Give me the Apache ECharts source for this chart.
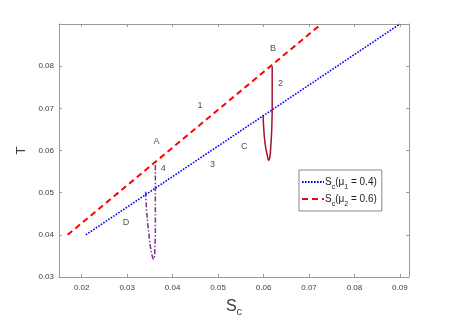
<!DOCTYPE html>
<html><head><meta charset="utf-8">
<script src="https://cdn.jsdelivr.net/npm/echarts@6/dist/echarts.min.js"></script>
<style>html,body{margin:0;padding:0;background:#fff}#c{width:452px;height:322px}</style>
</head><body><div id="c"></div>
<script>
// Tick labels
const xTicks = [0.02, 0.03, 0.04, 0.05, 0.06, 0.07, 0.08, 0.09];
const yTicks = [0.03, 0.04, 0.05, 0.06, 0.07, 0.08];
// S_c (mu1 = 0.4) blue dotted line
const sc1 = [[0.0209, 0.040], [0.0900, 0.090]];
// S_c (mu2 = 0.6) red dashed line
const sc2 = [[0.0169, 0.040], [0.0727, 0.090]];
// curve 4 (purple dash-dot), D -> A
const curve4 = [[0.03405, 0.0502], [0.0342, 0.047], [0.0344, 0.044], [0.0347, 0.041], [0.0350, 0.038],
  [0.0353, 0.0360], [0.0356, 0.0346], [0.0358, 0.0342], [0.0360, 0.0348], [0.0361, 0.0370],
  [0.0362, 0.041], [0.0362, 0.045], [0.0362, 0.050], [0.0362, 0.0545], [0.0362, 0.0575]];
// curve 2 (dark red solid), C -> B
const curve2 = [[0.0599, 0.0683], [0.0600, 0.0660], [0.0602, 0.0630], [0.0605, 0.0605], [0.0608, 0.0590],
  [0.0611, 0.0577], [0.0614, 0.0585], [0.0616, 0.0610], [0.0618, 0.0650], [0.0619, 0.0700],
  [0.0619, 0.0750], [0.0619, 0.0800]];
// annotation labels
const noteNames = ['1', 'A', 'B', '2', '3', '4', 'C', 'D'];
const noteX = [0.0460, 0.03647, 0.0621, 0.06373, 0.04878, 0.03792, 0.05573, 0.02973];
const noteY = [0.0707, 0.0621, 0.0842, 0.0758, 0.0567, 0.0557, 0.0609, 0.0429];

const txt = '#404040', axc = '#9a9a9a';
const font = 'Liberation Sans';
const chart = echarts.init(document.getElementById('c'), null, {renderer: 'canvas'});
const fmt = v => Number(v).toFixed(2);
function mainX(pos, show) {
  return {type: 'value', position: pos, min: 0.015, max: 0.092,
    axisLine: {show: true, onZero: false, lineStyle: {color: axc, width: 1}},
    axisTick: {show: true, inside: true, length: 3, customValues: xTicks, lineStyle: {color: axc}},
    axisLabel: {show: show, customValues: xTicks, formatter: fmt, color: txt, fontSize: 8, fontFamily: font, margin: 7},
    splitLine: {show: false}};
}
function mainY(pos, show) {
  return {type: 'value', position: pos, min: 0.03, max: 0.09,
    axisLine: {show: true, onZero: false, lineStyle: {color: axc, width: 1}},
    axisTick: {show: true, inside: true, length: 3, customValues: yTicks, lineStyle: {color: axc}},
    axisLabel: {show: show, customValues: yTicks, formatter: fmt, color: txt, fontSize: 8, fontFamily: font, margin: 5},
    splitLine: {show: false}};
}
const xa = mainX('bottom', true);
xa.name = '{s|S}{sub|c}';
xa.nameLocation = 'middle';
xa.nameGap = 20;
xa.nameTextStyle = {color: txt, fontFamily: font, rich: {
  s: {fontSize: 16, lineHeight: 20, fontFamily: font, color: txt},
  sub: {fontSize: 11, lineHeight: 11, verticalAlign: 'bottom', fontFamily: font, color: txt}}};
const ya = mainY('left', true);
ya.name = 'T';
ya.nameLocation = 'middle';
ya.nameRotate = 90;
ya.nameGap = 27;
ya.nameTextStyle = {color: txt, fontFamily: font, fontSize: 13};

const legRich = {
  n: {fontSize: 10, lineHeight: 18, fontFamily: font, color: '#222'},
  sub: {fontSize: 7, lineHeight: 7, verticalAlign: 'bottom', fontFamily: font, color: '#222'}
};
const option = {
  animation: false,
  backgroundColor: '#fff',
  grid: {left: 59, top: 24, right: 43, bottom: 44, containLabel: false},
  xAxis: [xa, mainX('top', false)],
  yAxis: [ya, mainY('right', false)],
  legend: {
    data: ['sc1', 'sc2'], orient: 'vertical', left: 299, top: 170,
    itemWidth: 22, itemHeight: 10, itemGap: 3, padding: [7, 5, 3, 2],
    borderColor: '#888', borderWidth: 1, backgroundColor: '#fff', borderRadius: 0,
    itemStyle: {opacity: 0},
    textStyle: {rich: legRich, padding: [0, 0, 0, -4]},
    formatter: n => n === 'sc1' ? '{n|S}{sub|c}{n|(μ}{sub|1}{n| = 0.4)}' : '{n|S}{sub|c}{n|(μ}{sub|2}{n| = 0.6)}'
  },
  series: [
    {name: 'sc1', type: 'line', data: sc1, symbol: 'none', lineStyle: {color: '#0000ff', width: 1.6, type: [1.6, 1.4]}, itemStyle: {color: '#0000ff'}, z: 3},
    {name: 'sc2', type: 'line', data: sc2, symbol: 'none', lineStyle: {color: '#ff0000', width: 2, type: [6, 4]}, itemStyle: {color: '#ff0000'}, z: 3},
    {name: 'c4', type: 'line', data: curve4, symbol: 'none', smooth: 0.3, lineStyle: {color: '#7e2f8e', width: 1.5, type: [5, 2, 1.5, 2]}, z: 2},
    {name: 'c2', type: 'line', data: curve2, symbol: 'none', smooth: 0.3, lineStyle: {color: '#a2142f', width: 1.5}, z: 2},
    {name: 'notes', type: 'scatter', symbolSize: 1, itemStyle: {color: 'rgba(0,0,0,0)'}, silent: true,
      data: noteNames.map((n, i) => ({name: n, value: [noteX[i], noteY[i]]})),
      label: {show: true, position: 'inside', formatter: '{b}', color: '#222', fontSize: 9, fontFamily: font}}
  ]
};
chart.setOption(option);
</script></body></html>
